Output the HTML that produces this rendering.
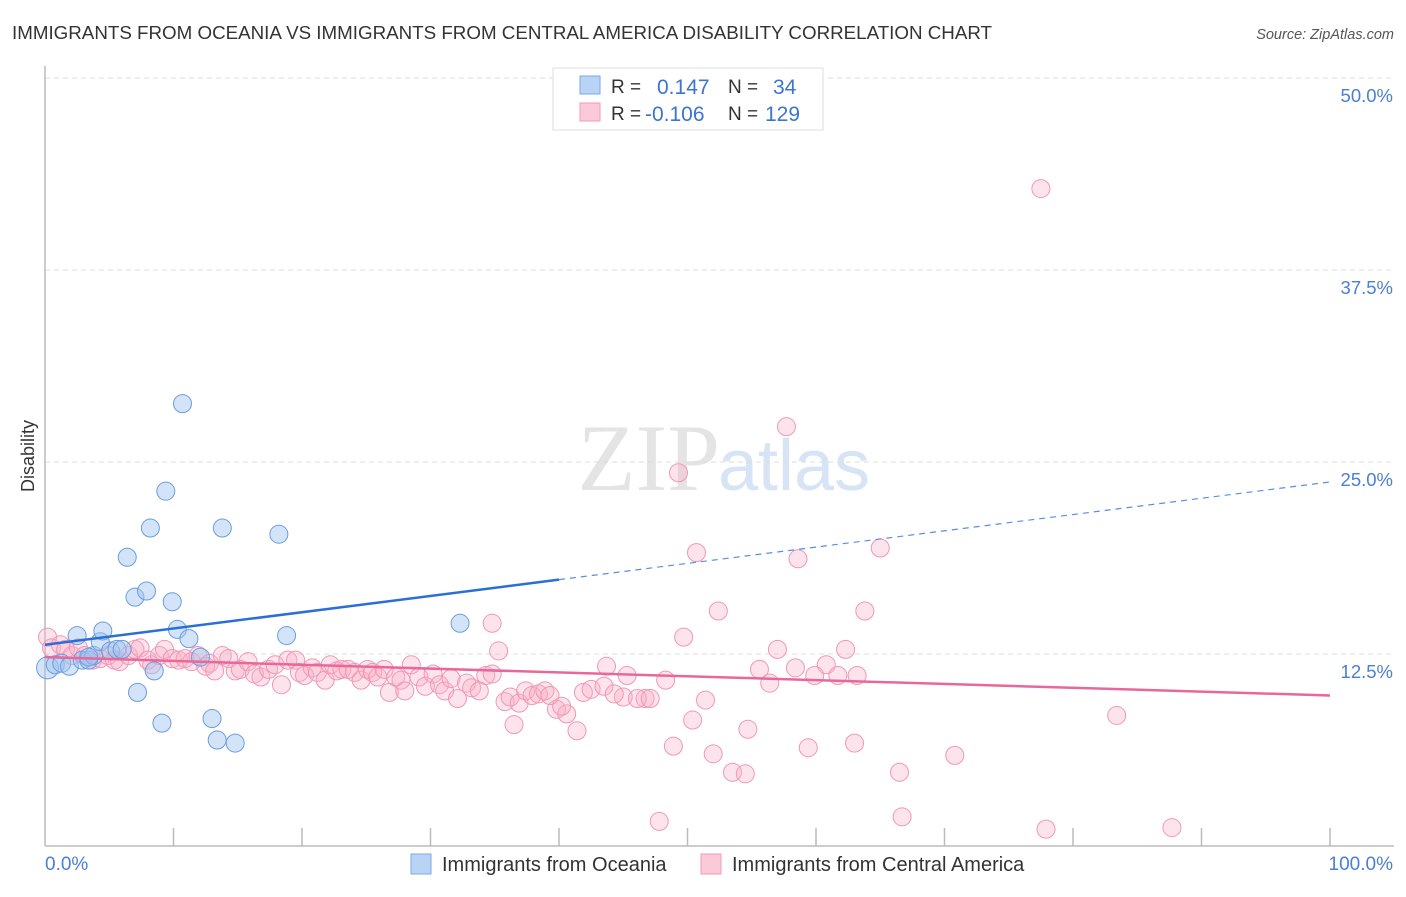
<!DOCTYPE html>
<html><head><meta charset="utf-8"><style>
body{margin:0;background:#fff;font-family:"Liberation Sans",sans-serif}
</style></head><body>
<svg width="1406" height="892" xmlns="http://www.w3.org/2000/svg" font-family="Liberation Sans, sans-serif">
<text x="12" y="39" font-size="18.8" fill="#333" textLength="980" lengthAdjust="spacingAndGlyphs">IMMIGRANTS FROM OCEANIA VS IMMIGRANTS FROM CENTRAL AMERICA DISABILITY CORRELATION CHART</text>
<text x="1394" y="39" font-size="14.5" fill="#555" font-style="italic" text-anchor="end">Source: ZipAtlas.com</text>
<text x="720" y="490" font-size="95" fill="#e4e4e4" text-anchor="end" font-family="Liberation Serif, serif">ZIP</text>
<text x="718" y="490" font-size="72" fill="#d6e4f5">atlas</text>
<g id="grid"></g>
<g id="axes"></g>
<g id="pts"></g>
<g id="lines"></g>
<text transform="translate(34,456) rotate(-90)" font-size="18" fill="#333" text-anchor="middle">Disability</text>
<text x="45" y="870" font-size="19" fill="#4a7fd4">0.0%</text>
<text x="1393" y="870" font-size="19" fill="#4a7fd4" text-anchor="end">100.0%</text>
<g>
<rect x="553" y="68" width="270" height="62" fill="#fff" stroke="#ddd"/>
<rect x="580" y="76" width="20" height="18" fill="#b9d3f5" stroke="#7aa8e8"/>
<rect x="580" y="103" width="20" height="18" fill="#fbc9d8" stroke="#f09ab7"/>
<text x="611" y="93" font-size="19" fill="#333">R =</text>
<text x="657" y="94" font-size="21" fill="#3b74d1">0.147</text>
<text x="728" y="93" font-size="19" fill="#333">N =</text>
<text x="773" y="94" font-size="21" fill="#3b74d1">34</text>
<text x="611" y="120" font-size="19" fill="#333">R =</text>
<text x="645" y="121" font-size="21" fill="#3b74d1">-0.106</text>
<text x="728" y="120" font-size="19" fill="#333">N =</text>
<text x="765" y="121" font-size="21" fill="#3b74d1">129</text>
</g>
<g>
<rect x="411" y="854" width="20" height="20" fill="#b9d3f5" stroke="#7aa8e8"/>
<text x="442" y="871" font-size="20" fill="#333">Immigrants from Oceania</text>
<rect x="701" y="854" width="20" height="20" fill="#fbc9d8" stroke="#f09ab7"/>
<text x="732" y="871" font-size="20" fill="#333">Immigrants from Central America</text>
</g>
</svg>
<script>
const yTicks=[12.5,25,37.5,50];
const yTickLabels=["12.5%","25.0%","37.5%","50.0%"];
const blueX=[0.2,0.8,1.3,1.9,2.5,2.9,3.4,3.8,4.3,4.5,5.1,5.6,6.0,6.4,7.0,7.2,7.9,8.2,8.5,9.1,9.4,9.9,10.3,10.7,11.2,12.1,13.0,13.4,13.8,14.8,18.2,18.8,32.3,3.4];
const blueY=[11.6,11.8,11.9,11.7,13.7,12.1,12.1,12.4,13.3,14.0,12.7,12.8,12.8,18.8,16.2,10.0,16.6,20.7,11.4,8.0,23.1,15.9,14.1,28.8,13.5,12.3,8.3,6.9,20.7,6.7,20.3,13.7,14.5,12.3];
const pinkX=[77.5,57.7,49.3,50.7,58.6,65.0,52.4,63.8,34.8,49.7,35.3,57.0,62.3,43.7,55.6,58.4,60.8,59.9,61.7,63.2,45.3,48.3,56.4,51.4,45.0,46.7,41.9,42.5,43.5,44.3,46.1,47.1,39.8,40.6,40.2,36.5,41.4,50.4,54.7,83.4,48.9,52.0,59.4,63.0,70.8,53.5,54.5,66.5,47.8,66.7,77.9,87.7,
0.2,0.5,1.2,1.6,2.1,2.6,3.1,3.7,4.3,4.9,5.4,5.8,6.5,7.0,7.4,8.0,8.3,8.9,9.3,9.9,10.4,10.9,11.4,11.9,12.5,12.8,13.2,13.8,14.3,14.8,15.2,15.8,16.3,16.8,17.4,17.9,18.4,18.9,19.5,19.8,20.2,20.8,21.2,21.8,22.2,22.7,23.1,23.6,24.1,24.6,25.1,25.5,25.9,26.4,26.8,27.3,27.7,28.0,28.5,29.1,29.6,30.2,30.7,31.1,31.6,32.1,32.8,33.2,33.8,34.3,34.8,35.8,36.2,36.9,37.4,37.9,38.4,38.9,39.3];
const pinkY=[42.8,27.3,24.3,19.1,18.7,19.4,15.3,15.3,14.5,13.6,12.7,12.8,12.8,11.7,11.5,11.6,11.8,11.1,11.1,11.1,11.1,10.8,10.6,9.5,9.7,9.6,10.0,10.2,10.4,9.9,9.6,9.6,8.9,8.6,9.1,7.9,7.5,8.2,7.6,8.5,6.5,6.0,6.4,6.7,5.9,4.8,4.7,4.8,1.6,1.9,1.1,1.2,
13.6,12.9,13.1,12.8,12.4,12.9,12.4,12.1,12.2,12.4,12.1,12.0,12.4,12.8,12.9,12.1,11.8,12.4,12.8,12.2,12.1,12.2,12.0,12.4,11.7,11.9,11.4,12.4,12.2,11.4,11.5,12.0,11.2,11.0,11.5,11.8,10.5,12.1,12.1,11.3,11.1,11.6,11.3,10.8,11.8,11.4,11.5,11.5,11.3,10.8,11.5,11.3,11.0,11.5,10.0,11.0,10.8,10.1,11.8,11.0,10.4,11.2,10.5,10.1,10.9,9.6,10.6,10.3,10.1,11.1,11.2,9.4,9.7,9.3,10.1,9.8,9.9,10.1,9.8];
const blueTrend=[13.1,23.7];
const pinkTrend=[12.3,9.8];
const X0=45,X1=1330,Y0=846,YS=192/12.5;
const sx=v=>X0+(X1-X0)*v/100, sy=v=>Y0-v*YS;
const NS='http://www.w3.org/2000/svg';
function mk(t,a,p){const e=document.createElementNS(NS,t);for(const k in a)e.setAttribute(k,a[k]);p.appendChild(e);return e;}
const grid=document.getElementById('grid'),axes=document.getElementById('axes');
yTicks.forEach((t,i)=>{
 const l=mk('line',{x1:X0,x2:1394,y1:sy(t),y2:sy(t),stroke:'#ddd','stroke-dasharray':'5,4'},grid);
 
 
 const tx=mk('text',{x:1393,y:sy(t)+24,'font-size':18.5,fill:'#4a7fd4','text-anchor':'end'},grid);
 tx.textContent=yTickLabels[i];
 
 
});
const ya=mk('line',{x1:X0,x2:X0,y1:66,y2:Y0,stroke:'#bbb','stroke-width':1.5},axes);


const xa=mk('line',{x1:X0,x2:1394,y1:Y0,y2:Y0,stroke:'#bbb','stroke-width':1.5},axes);


for(let i=1;i<=10;i++){const t=mk('line',{x1:sx(i*10),x2:sx(i*10),y1:Y0-18,y2:Y0,stroke:'#bbb','stroke-width':1.5},axes);
 
 }
const pts=document.getElementById('pts');
pinkX.forEach((x,i)=>{const c=mk('circle',{cx:sx(x),cy:sy(pinkY[i]),r:9,fill:'rgba(248,175,198,0.35)',stroke:'#f197b6','stroke-width':1},pts);
 
 });
blueX.forEach((x,i)=>{const c=mk('circle',{cx:sx(x),cy:sy(blueY[i]),r:i==0?11:9,fill:'rgba(160,196,240,0.45)',stroke:'#6a9de0','stroke-width':1},pts);
 
 });
const lines=document.getElementById('lines');
const bAt=v=>blueTrend[0]+(blueTrend[1]-blueTrend[0])*v/100;
const b1=mk('line',{x1:sx(0),y1:sy(bAt(0)),x2:sx(40),y2:sy(bAt(40)),stroke:'#2a6fd6','stroke-width':2.5},lines);


const b2=mk('line',{x1:sx(40),y1:sy(bAt(40)),x2:sx(100),y2:sy(bAt(100)),stroke:'#5a8ee0','stroke-width':1.2,'stroke-dasharray':'6,5'},lines);


const p1=mk('line',{x1:sx(0),y1:sy(pinkTrend[0]),x2:sx(100),y2:sy(pinkTrend[1]),stroke:'#e8689a','stroke-width':2.5},lines);


</script>
</body></html>
